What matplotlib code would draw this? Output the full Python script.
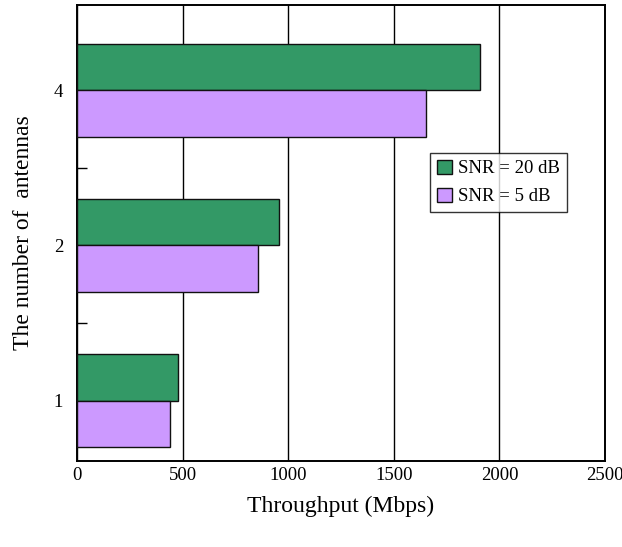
import numpy as np
import matplotlib
matplotlib.use("Agg")
import matplotlib.pyplot as plt
from matplotlib.ticker import FixedLocator

plt.rcParams['font.family'] = ['Liberation Serif', 'DejaVu Serif']

# data
antennas = ['1', '2', '4']
snr20 = [476, 956, 1908]
snr5 = [438, 857, 1654]

fig = plt.figure(figsize=(6.22, 5.47), dpi=100)
ax = fig.add_axes([77/622, 1-461/547, 528/622, 456/547])

y = np.arange(len(antennas))
h = 0.30
ax.barh(y + h/2, snr20, height=h, color='#339966', edgecolor='#111111',
        linewidth=1.0, label='SNR = 20 dB', zorder=3)
ax.barh(y - h/2, snr5, height=h, color='#cc99ff', edgecolor='#111111',
        linewidth=1.0, label='SNR = 5 dB', zorder=3)

ax.set_xlim(0, 2500)
ax.set_ylim(-0.39, 2.55)
ax.set_xticks([0, 500, 1000, 1500, 2000, 2500])
ax.set_yticks(y)
ax.set_yticklabels(antennas)
# small inward ticks between the groups
ax.yaxis.set_minor_locator(FixedLocator([0.5, 1.5]))
ax.tick_params(axis='x', length=0, pad=4, labelsize=13.5)
ax.tick_params(axis='y', which='major', length=0, pad=10, labelsize=13.5)
ax.tick_params(axis='y', which='minor', direction='in', length=7, width=1)
ax.grid(axis='x', color='black', linewidth=1.0, zorder=0)
ax.set_axisbelow(True)
for s in ax.spines.values():
    s.set_linewidth(1.4)
    s.set_color('black')

ax.set_xlabel('Throughput (Mbps)', fontsize=17, labelpad=9)
ax.set_ylabel('The number of  antennas', fontsize=17, labelpad=14)

leg = ax.legend(loc='upper left', bbox_to_anchor=(353/528, 1-148/456),
                fontsize=13.5, frameon=True, fancybox=False, edgecolor='black',
                handlelength=0.8, handleheight=0.8, handletextpad=0.35,
                borderpad=0.35, labelspacing=0.55, borderaxespad=0)
leg.get_frame().set_linewidth(1.0)

fig.savefig('out.png', dpi=100)
